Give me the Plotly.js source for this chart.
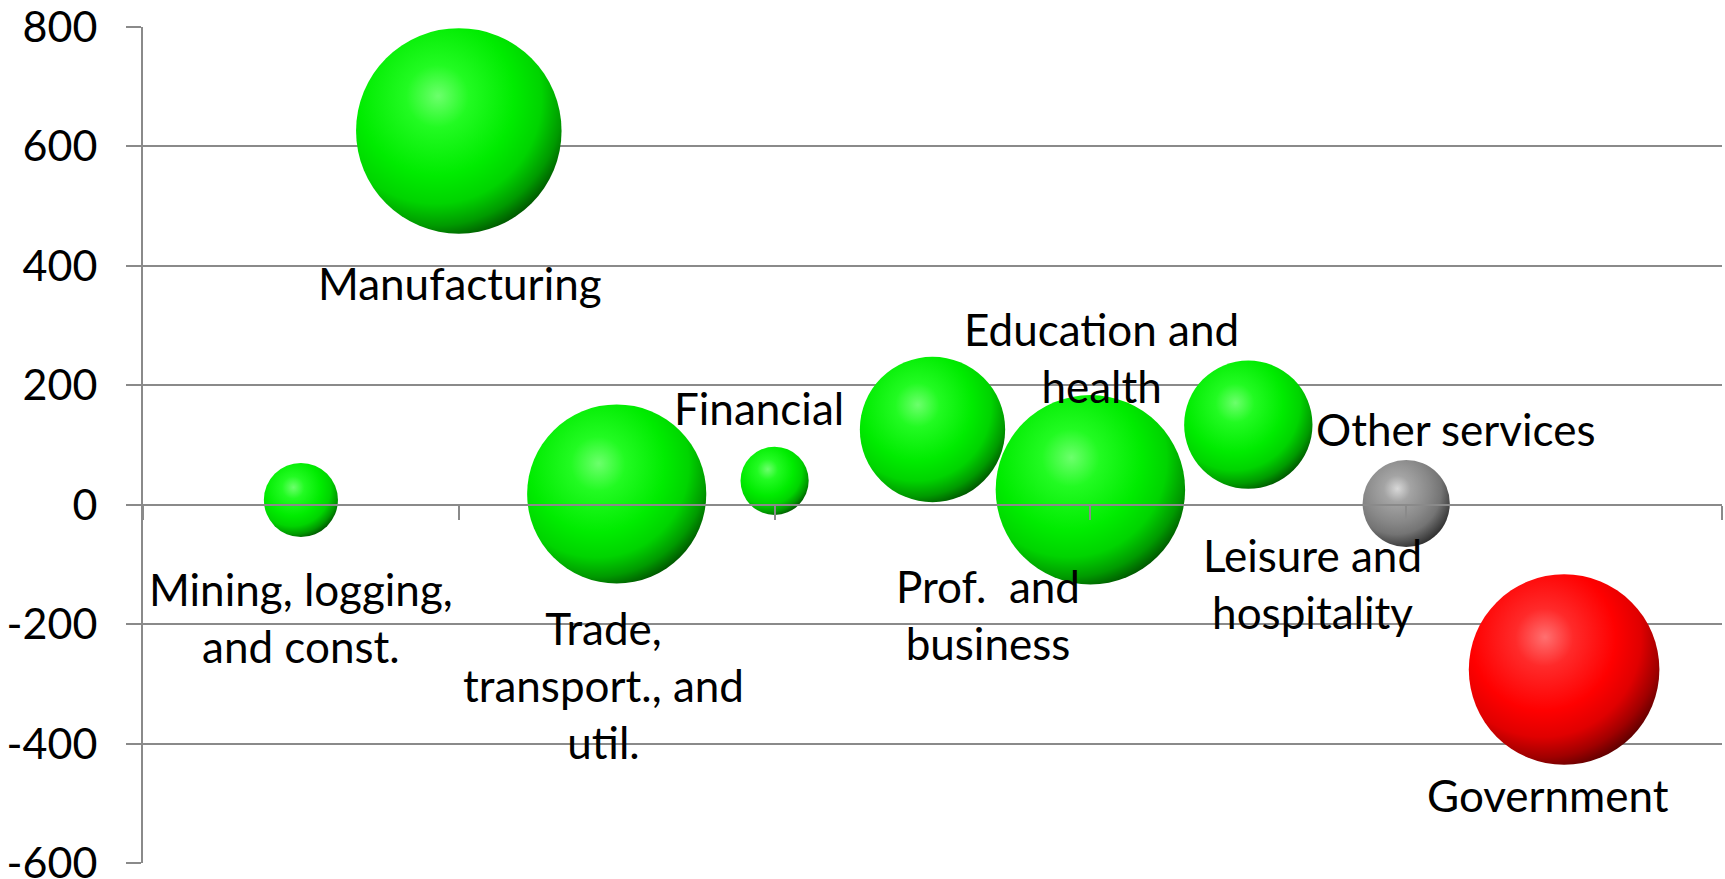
<!DOCTYPE html>
<html><head><meta charset="utf-8">
<script src="https://cdn.plot.ly/plotly-3.0.1.min.js"></script>
<style>html,body{margin:0;padding:0;background:#fff;overflow:hidden}#chart{width:1725px;height:879px}</style>
</head><body><div id="chart"></div>
<script>
// ---- data ----
const sectors = ["Mining, logging,<br>and const.", "Manufacturing", "Trade,<br>transport., and<br>util.", "Financial",
  "Prof.\u00a0 and<br>business", "Education and<br>health", "Leisure and<br>hospitality", "Other services", "Government"];
const xPos = [1, 2, 3, 4, 5, 6, 7, 8, 9];
const change = [8, 626, 18, 40, 126, 25, 134, 2, -276];
const bubbleSize = [13, 100, 76, 11, 50, 85, 39, 18, 86];
const yTickVals = [-600, -400, -200, 0, 200, 400, 600, 800];
const yTickText = ["-600", "-400", "-200", "0", "200", "400", "600", "800"];

// ---- styles ----
const shade = ["sphG","sphG","sphG","sphG","sphG","sphG","sphG","sphK","sphR"];
const baseColor = {sphG:"#00e600", sphK:"#808080", sphR:"#ff0000"};
const labelShift = [[0,-118],[1,-152],[-13,-191],[-16,73],[55,-185],[11,132],[64,-159],[50,75],[-16,-125]];
const palettes = {
  sphG: [[0,"#6cff6c"],[0.2,"#22fb22"],[0.5,"#00ec00"],[0.68,"#00d400"],[0.82,"#009a00"],[0.93,"#005200"],[1,"#003000"]],
  sphK: [[0,"#d8d8d8"],[0.2,"#a4a4a4"],[0.5,"#888888"],[0.68,"#747474"],[0.82,"#4c4c4c"],[0.93,"#2c2c2c"],[1,"#1a1a1a"]],
  sphR: [[0,"#ff7070"],[0.2,"#ff2a2a"],[0.5,"#ff0000"],[0.68,"#e00000"],[0.82,"#a00000"],[0.93,"#5a0000"],[1,"#300000"]]
};
const axisGrey = "#8a8a8a";
const FONT = 'Lato, "Liberation Sans", sans-serif';

const trace = {
  type: "scatter", mode: "markers",
  x: xPos, y: change, text: sectors,
  marker: {
    size: bubbleSize, sizemode: "area", sizeref: 2 * 100 / (205.5 * 205.5),
    color: shade.map(s => baseColor[s]), line: {width: 0}, opacity: 1
  },
  hoverinfo: "skip", showlegend: false, cliponaxis: false
};
const axisTrace = {type: "scatter", mode: "markers", x: [], y: [], xaxis: "x2", yaxis: "y", showlegend: false, hoverinfo: "skip"};

const annotations = sectors.map((t, i) => ({
  x: xPos[i], y: change[i], xref: "x", yref: "y", text: t, showarrow: false,
  xanchor: "center", yanchor: "middle", align: "center",
  xshift: labelShift[i][0], yshift: labelShift[i][1],
  font: {family: FONT, size: 44, color: "#000"}
}));

const layout = {
  width: 1725, height: 879,
  margin: {l: 143, r: 3, t: 27, b: 16, pad: 0},
  paper_bgcolor: "#fff", plot_bgcolor: "#fff",
  font: {family: FONT, color: "#000"},
  xaxis: {range: [0, 10], showgrid: false, zeroline: false, showline: false, showticklabels: false, ticks: "", fixedrange: true},
  xaxis2: {overlaying: "x", anchor: "free", position: 600 / 1400, side: "bottom", range: [0, 10],
    tick0: 0, dtick: 2, ticks: "outside", ticklen: 14, tickwidth: 2, tickcolor: axisGrey,
    showline: true, linecolor: axisGrey, linewidth: 2, showticklabels: false, showgrid: false, zeroline: false},
  yaxis: {range: [-600, 800], tickvals: yTickVals, ticktext: yTickText, showgrid: true, gridcolor: axisGrey, gridwidth: 2,
    zeroline: false, showline: true, linecolor: axisGrey, linewidth: 2, ticks: "outside", ticklen: 15, tickwidth: 2,
    tickcolor: axisGrey, ticklabelstandoff: 20, ticklabeloverflow: "allow",
    tickfont: {family: FONT, size: 43, color: "#000"}, fixedrange: true},
  annotations: annotations,
  showlegend: false
};

function applySpheres() {
  const svg = document.querySelector("#chart .main-svg");
  if (!svg) return;
  const NS = "http://www.w3.org/2000/svg";
  let defs = svg.querySelector("defs");
  if (!defs) { defs = document.createElementNS(NS, "defs"); svg.insertBefore(defs, svg.firstChild); }
  for (const [id, stops] of Object.entries(palettes)) {
    if (document.getElementById(id)) continue;
    const g = document.createElementNS(NS, "radialGradient");
    g.setAttribute("id", id);
    g.setAttribute("cx", "0.38"); g.setAttribute("cy", "0.34"); g.setAttribute("r", "0.76");
    g.setAttribute("fx", "0.40"); g.setAttribute("fy", "0.33");
    stops.forEach(([o, c]) => {
      const s = document.createElementNS(NS, "stop");
      s.setAttribute("offset", o); s.setAttribute("stop-color", c);
      g.appendChild(s);
    });
    defs.appendChild(g);
  }
  const pts = document.querySelectorAll("#chart .scatterlayer .trace")[0].querySelectorAll("path.point");
  pts.forEach((p, i) => { p.style.fill = "url(#" + shade[i] + ")"; });
}

Plotly.newPlot("chart", [trace, axisTrace], layout, {staticPlot: true, displayModeBar: false}).then(gd => {
  applySpheres();
  gd.on && gd.on("plotly_afterplot", applySpheres);
});
</script>
</body></html>
